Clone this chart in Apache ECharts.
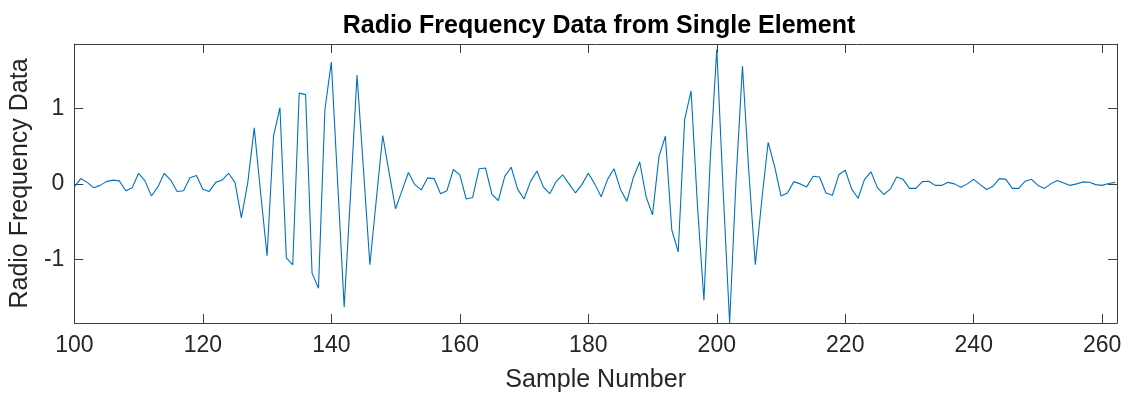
<!DOCTYPE html>
<html>
<head>
<meta charset="utf-8">
<script src="https://cdn.jsdelivr.net/npm/echarts@6/dist/echarts.min.js"></script>
<style>
  html, body { margin: 0; padding: 0; background: #fff; }
  #chart { width: 1129px; height: 399px; }
</style>
</head>
<body>
<div id="chart"></div>
<script>
// sample number of the first value
const firstSample = 100

// RF data, one value per sample (100 .. 262)
const rfData = [
  -0.04, 0.07, 0.02, -0.05, -0.02, 0.03, 0.05, 0.04, -0.09, -0.05,
  0.14, 0.04, -0.16, -0.04, 0.14, 0.05, -0.10, -0.09, 0.08, 0.11,
  -0.07, -0.10, 0.02, 0.05, 0.14, 0.02, -0.45, 0.02, 0.74, -0.12,
  -0.95, 0.63, 1.01, -0.98, -1.07, 1.20, 1.18, -1.18, -1.38, 0.98,
  1.61, 0.00, -1.63, -0.13, 1.44, 0.20, -1.07, -0.21, 0.64, 0.15,
  -0.33, -0.09, 0.15, -0.01, -0.08, 0.08, 0.07, -0.13, -0.09, 0.19,
  0.12, -0.20, -0.18, 0.20, 0.21, -0.14, -0.22, 0.10, 0.22, -0.07,
  -0.20, 0.03, 0.17, -0.04, -0.13, 0.03, 0.12, 0.00, -0.12, -0.01,
  0.14, 0.00, -0.17, 0.06, 0.20, -0.07, -0.23, 0.08, 0.29, -0.17,
  -0.41, 0.36, 0.63, -0.61, -0.90, 0.85, 1.23, -0.30, -1.54, 0.35,
  1.78, -0.10, -1.84, 0.05, 1.56, 0.15, -1.07, -0.22, 0.55, 0.23,
  -0.16, -0.12, 0.03, 0.00, -0.04, 0.10, 0.09, -0.12, -0.15, 0.12,
  0.18, -0.07, -0.19, 0.06, 0.16, -0.05, -0.14, -0.07, 0.09, 0.06,
  -0.06, -0.06, 0.03, 0.035, -0.02, -0.02, 0.02, 0.00, -0.045, 0.00,
  0.06, -0.01, -0.075, -0.03, 0.07, 0.06, -0.06, -0.06, 0.035, 0.06,
  -0.02, -0.06, 0.00, 0.045, 0.013, -0.02, 0.00, 0.026, 0.022, -0.01,
  -0.02, 0.005, 0.02
]

// tick positions
const xTicks = [100, 120, 140, 160, 180, 200, 220, 240, 260]
const yTicks = [-1, 0, 1]

const FONT = "'Liberation Sans', Arial, Helvetica, sans-serif"
const AXIS_COLOR = '#404040'
const TEXT_COLOR = '#262626'

const xRange = { min: 100, max: 262.3 }
const yRange = { min: -1.84, max: 1.85 }

function boxAxis(pos, ticks, range, showLabel) {
  return {
    type: 'value',
    position: pos,
    min: range.min,
    max: range.max,
    axisLine: { show: true, onZero: false, lineStyle: { color: AXIS_COLOR, width: 1 } },
    axisTick: { show: true, inside: true, length: 9, customValues: ticks, lineStyle: { color: AXIS_COLOR, width: 1 } },
    axisLabel: {
      show: showLabel,
      customValues: ticks,
      fontSize: 23,
      fontFamily: FONT,
      color: TEXT_COLOR,
      margin: 10,
    },
    splitLine: { show: false },
  }
}

const chart = echarts.init(document.getElementById('chart'), null, { renderer: 'canvas' })

const bottomAxis = boxAxis('bottom', xTicks, xRange, true)
bottomAxis.axisLabel.margin = 11
bottomAxis.name = 'Sample Number'
bottomAxis.nameLocation = 'middle'
bottomAxis.nameGap = 45
bottomAxis.nameTextStyle = { fontSize: 25, fontFamily: FONT, color: TEXT_COLOR }

const leftAxis = boxAxis('left', yTicks, yRange, true)
leftAxis.name = 'Radio Frequency Data'
leftAxis.nameLocation = 'middle'
leftAxis.nameGap = 35
leftAxis.nameTextStyle = { fontSize: 25, fontFamily: FONT, color: TEXT_COLOR }

chart.setOption({
  animation: false,
  backgroundColor: '#fff',
  title: {
    text: 'Radio Frequency Data from Single Element',
    left: 594,
    top: 9,
    textAlign: 'center',
    textStyle: { fontSize: 25, fontWeight: 'bold', fontFamily: FONT, color: '#000' },
  },
  grid: { left: 72, right: 12, top: 44, bottom: 76, containLabel: false },
  xAxis: [bottomAxis, boxAxis('top', xTicks, xRange, false)],
  yAxis: [leftAxis, boxAxis('right', yTicks, yRange, false)],
  series: [
    {
      type: 'line',
      xAxisIndex: 0,
      yAxisIndex: 0,
      data: rfData.map((v, i) => [firstSample + i, v]),
      showSymbol: false,
      symbol: 'none',
      lineStyle: { color: '#0072BD', width: 1.1 },
      itemStyle: { color: '#0072BD' },
    },
  ],
})
</script>
</body>
</html>
